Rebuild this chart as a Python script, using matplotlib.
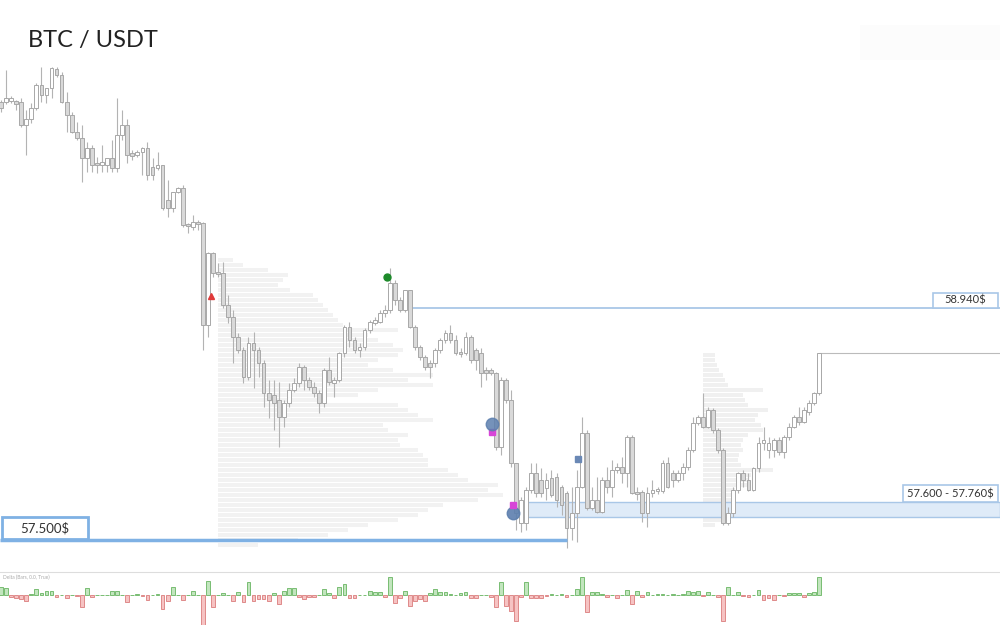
import numpy as np
import matplotlib.pyplot as plt
from matplotlib.patches import Rectangle
from matplotlib.transforms import blended_transform_factory

plt.rcParams['font.family'] = ['Lato', 'DejaVu Sans']

# ---- BTC/USDT candles (price in $) ----
opens = [60216, 60216, 60222, 60222, 60216, 60073, 60110, 60178, 60321, 60259,
         60302, 60420, 60383, 60216, 60135, 60030, 59992, 59868, 59930, 59837,
         59825, 59825, 59868, 59806, 60011, 60073, 59899, 59887, 59906, 59930,
         59813, 59806, 59825, 59608, 59558, 59658, 59682, 59459, 59441, 59472,
         59465, 58833, 59279, 59162, 59155, 58957, 58883, 58759, 58678, 58511,
         58721, 58678, 58597, 58411, 58399, 58368, 58263, 58349, 58430, 58473,
         58573, 58492, 58449, 58411, 58349, 58554, 58473, 58492, 58659, 58821,
         58740, 58678, 58697, 58802, 58845, 58852, 58907, 58926, 59093, 58988,
         58926, 59050, 58821, 58697, 58635, 58597, 58597, 58678, 58740, 58783,
         58740, 58666, 58659, 58759, 58678, 58659, 58554, 58554, 58535, 58077,
         58492, 58368, 57977, 57605, 57605, 57810, 57915, 57872, 57822, 57884,
         57891, 57829, 57791, 57574, 57667, 57829, 58163, 57698, 57748, 57674,
         57872, 57829, 57934, 57953, 57915, 58139, 57798, 57798, 57667, 57791,
         57804, 57804, 57977, 57915, 57872, 57915, 57953, 58058, 58225, 58263,
         58201, 58306, 58182, 58058, 57605, 57667, 57810, 57915, 57872, 57810,
         57946, 58101, 58058, 58058, 58120, 58046, 58139, 58201, 58263, 58232,
         58294, 58349, 58411]
closes = [60178, 60240, 60240, 60203, 60073, 60110, 60178, 60321, 60259, 60302,
          60426, 60383, 60216, 60135, 60030, 59992, 59868, 59930, 59825, 59825,
          59844, 59868, 59806, 60011, 60073, 59887, 59881, 59906, 59930, 59763,
          59763, 59825, 59558, 59558, 59658, 59682, 59453, 59447, 59472, 59459,
          58833, 59279, 59155, 59149, 58957, 58883, 58759, 58678, 58511, 58721,
          58678, 58597, 58411, 58368, 58349, 58263, 58349, 58430, 58473, 58573,
          58492, 58449, 58411, 58349, 58554, 58480, 58492, 58659, 58821, 58740,
          58678, 58697, 58802, 58852, 58864, 58907, 58926, 59093, 58988, 58926,
          59050, 58821, 58697, 58635, 58573, 58573, 58678, 58740, 58783, 58740,
          58659, 58653, 58759, 58616, 58616, 58535, 58535, 58535, 58077, 58492,
          58368, 57977, 57667, 57748, 57810, 57915, 57791, 57791, 57872, 57779,
          57748, 57717, 57574, 57667, 57829, 58163, 57698, 57748, 57674, 57872,
          57829, 57934, 57953, 57915, 58139, 57791, 57785, 57667, 57791, 57810,
          57816, 57977, 57829, 57872, 57915, 57953, 58058, 58225, 58263, 58201,
          58306, 58182, 58058, 57605, 57667, 57810, 57915, 57872, 57810, 57946,
          58101, 58120, 58101, 58120, 58046, 58139, 58201, 58263, 58232, 58306,
          58349, 58411, 58659]
highs = [60228, 60414, 60253, 60228, 60240, 60166, 60209, 60333, 60433, 60302,
         60433, 60433, 60402, 60278, 60154, 60092, 60073, 59968, 59949, 59875,
         59949, 59868, 59980, 60240, 60166, 60110, 59918, 59918, 59937, 59968,
         59868, 59906, 59825, 59732, 59658, 59689, 59701, 59465, 59515, 59484,
         59472, 59286, 59286, 59217, 59224, 59019, 58926, 58783, 58697, 58759,
         58790, 58697, 58616, 58492, 58492, 58480, 58368, 58473, 58504, 58597,
         58585, 58511, 58480, 58430, 58566, 58635, 58511, 58666, 58833, 58852,
         58759, 58721, 58814, 58864, 58883, 58926, 58957, 59186, 59112, 59007,
         59050, 59050, 58833, 58709, 58647, 58616, 58690, 58752, 58802, 58833,
         58771, 58690, 58790, 58771, 58690, 58690, 58573, 58566, 58542, 58511,
         58504, 58430, 57977, 57767, 57829, 57977, 57977, 57946, 57915, 57934,
         57915, 57841, 57804, 57829, 57934, 58263, 58182, 57829, 57891, 57891,
         57953, 57996, 57977, 58015, 58151, 58151, 57829, 57810, 57829, 57872,
         57829, 57996, 58015, 57934, 57934, 57977, 58077, 58263, 58275, 58411,
         58325, 58318, 58194, 58070, 57705, 57829, 57922, 57934, 57915, 57953,
         58139, 58201, 58139, 58132, 58139, 58151, 58225, 58275, 58325, 58325,
         58368, 58418, 58659]
lows = [60154, 60203, 60209, 60166, 60061, 59887, 60085, 60166, 60216, 60209,
        60240, 60371, 60209, 60030, 60023, 59980, 59720, 59782, 59782, 59775,
        59782, 59782, 59782, 59782, 59980, 59837, 59856, 59875, 59763, 59732,
        59732, 59794, 59546, 59503, 59534, 59651, 59441, 59403, 59422, 59422,
        58678, 58759, 59131, 59131, 58938, 58845, 58597, 58659, 58473, 58492,
        58442, 58511, 58325, 58256, 58182, 58077, 58201, 58325, 58418, 58449,
        58430, 58430, 58387, 58287, 58325, 58461, 58387, 58480, 58635, 58697,
        58659, 58635, 58678, 58783, 58833, 58845, 58883, 58907, 58957, 58914,
        58914, 58814, 58678, 58616, 58554, 58504, 58573, 58659, 58721, 58721,
        58647, 58635, 58647, 58597, 58554, 58449, 58492, 58523, 58058, 58027,
        58349, 57953, 57562, 57550, 57562, 57791, 57767, 57767, 57748, 57767,
        57705, 57655, 57450, 57500, 57488, 57822, 57686, 57686, 57667, 57667,
        57791, 57767, 57915, 57853, 57829, 57785, 57748, 57612, 57581, 57767,
        57785, 57791, 57822, 57829, 57860, 57872, 57934, 58046, 58213, 58194,
        58194, 58163, 58039, 57593, 57593, 57643, 57791, 57829, 57804, 57804,
        57922, 58058, 58008, 58015, 58027, 58008, 58120, 58194, 58213, 58225,
        58275, 58337, 58399]

# delta per bar (lower panel)
delta = [8, 7, -2, -3, -4, -6, 1, 6, 2, 4, 4, -2, 0, -3, 0, -1, -12, 7, -2, 0,
         0, 0, 4, 4, 0, -7, 0, 1, -1, -5, 0, 1, -14, -6, 8, 0, -5, 0, 4, 0,
         -30, 14, -12, 0, 2, 0, -6, 3, -7, 13, -6, -4, -4, -6, 2, -9, 4, 7, 7, -2,
         -4, -2, -2, 0, 6, 2, -3, 8, 11, -3, -3, 0, 0, 4, 3, 3, -2, 18, -8, -3,
         4, -11, -6, -4, -6, 2, 6, 3, 3, 1, 0, 2, 3, -3, -3, 0, 0, -2, -12, 13,
         -11, -16, -26, -2, 13, -3, -3, -3, -1, 1, 0, 1, -2, 0, 6, 18, -17, 3, 3, 1,
         -2, 0, -3, 0, 5, -9, 4, -2, 3, 0, 1, 1, 0, 1, 0, 1, 4, 3, 4, -1,
         3, 0, -2, -26, 8, 0, 3, -1, -2, 0, 5, -5, -3, -5, 0, -1, 2, 2, 2, -2,
         2, 3, 18]

# volume profiles (price bins of $31)
prof1_top = 59236
prof1_vol = [15, 25, 50, 70, 65, 60, 72, 95, 100, 105, 110, 115, 120, 125, 180,
             150, 160, 175, 185, 180, 160, 150, 175, 215, 190, 215, 160, 140, 100,
             180, 190, 200, 215, 165, 170, 190, 180, 182, 200, 205, 210, 210, 230,
             240, 250, 280, 270, 285, 260, 225, 210, 200, 180, 150, 130, 110, 80, 40]
prof1_start = 43
prof2_top = 58647
prof2_vol = [12, 12, 14, 16, 20, 22, 25, 60, 40, 42, 45, 65, 55, 52, 58, 60, 45,
             40, 38, 40, 36, 35, 38, 70, 48, 45, 45, 32, 30, 30, 28, 25, 24, 18, 12]
prof2_start = 139
bin_size = 31

level_high = 58940
zone_low, zone_high = 57645, 57735
level_low = 57500

n = len(opens)
idx = np.arange(n)
o = np.array(opens)
c = np.array(closes)
up = c >= o

fig = plt.figure(figsize=(10, 6.25), dpi=100)
ax = fig.add_axes([0, 0.0928, 1, 0.9072])
dax = fig.add_axes([0, 0, 1, 0.0848])

spacing = 5.05
ax.set_xlim(-1 / spacing, 999 / spacing)
ax.set_ylim(57333, 60848)
ax.axis('off')

# volume profiles
lv1 = prof1_top - bin_size * np.arange(len(prof1_vol))
ax.barh(lv1, np.array(prof1_vol) / spacing, left=prof1_start, height=bin_size * 0.97,
        color='#f2f2f2', zorder=0)
lv2 = prof2_top - bin_size * np.arange(len(prof2_vol))
ax.barh(lv2, np.array(prof2_vol) / spacing, left=prof2_start, height=bin_size * 0.97,
        color='#f0f0f0', zorder=0)

# zone and levels
ax.axhspan(zone_low, zone_high, xmin=0.52, xmax=1, facecolor='#dfebf8',
           edgecolor='#a9c7e7', lw=1, zorder=1)
ax.axhline(level_high, xmin=0.41, xmax=1, color='#a9c7e7', lw=1.3, zorder=1)
ax.hlines(closes[-1], idx[-1], ax.get_xlim()[1], color='#bbbbbb', lw=0.8, zorder=1)
ax.hlines(level_low, ax.get_xlim()[0], idx[112], color='#7fb1e4', lw=2.5, zorder=4)

# candles
ax.vlines(idx, lows, highs, color='#b3b3b3', lw=0.8, zorder=2)
bottoms = np.minimum(o, c)
heights = np.maximum(np.abs(c - o), 8)
ax.bar(idx[up], heights[up], bottom=bottoms[up], width=0.74, color='white',
       edgecolor='#a8a8a8', lw=0.7, zorder=3)
ax.bar(idx[~up], heights[~up], bottom=bottoms[~up], width=0.74, color='#d9d9d9',
       edgecolor='#a8a8a8', lw=0.7, zorder=3)

# signals
ax.plot(41.6, 59013, marker='^', color='#e03a3a', ms=4, zorder=5)
ax.plot(76.4, 59131, marker='o', color='#1d8a2a', ms=5, zorder=5)
ax.plot(97.2, 58170, marker='s', color='#d845d8', ms=5, zorder=5)
ax.plot(97.2, 58219, marker='o', color='#5d7fae', alpha=0.85, ms=9, zorder=6)
ax.plot(101.4, 57668, marker='o', color='#5d7fae', alpha=0.9, ms=9, zorder=5)
ax.plot(101.4, 57717, marker='s', color='#d845d8', ms=5, zorder=6)
ax.plot(114.3, 58002, marker='s', color='#6a88b5', ms=4, zorder=5)

# price labels
tr = blended_transform_factory(ax.transAxes, ax.transData)
ax.add_patch(Rectangle((0.933, level_high), 0.065, 93, transform=tr, facecolor='white',
                       edgecolor='#a9c7e7', lw=1.2, zorder=6))
ax.text(0.9655, level_high + 46, '58.940$', transform=tr, ha='center', va='center',
        fontsize=8, color='#333333', zorder=7)
ax.add_patch(Rectangle((0.903, zone_high), 0.095, 105, transform=tr, facecolor='white',
                       edgecolor='#a9c7e7', lw=1.2, zorder=6))
ax.text(0.9505, zone_high + 52, '57.600 - 57.760$', transform=tr, ha='center',
        va='center', fontsize=8, color='#333333', zorder=7)
ax.add_patch(Rectangle((0.002, level_low + 6), 0.086, 137, transform=tr, facecolor='white',
                       edgecolor='#7fb1e4', lw=2, zorder=6))
ax.text(0.045, level_low + 72, '57.500$', transform=tr, ha='center', va='center',
        fontsize=9.5, color='#333333', zorder=7)

fig.text(0.028, 1 - 40 / 625, 'BTC / USDT', fontsize=17, va='center', color='#222222')
fig.patches.append(Rectangle((0.86, 1 - 60 / 625), 0.14, 35 / 625, transform=fig.transFigure,
                             facecolor='#fcfcfc', edgecolor='none'))

# delta panel
d = np.array(delta)
dax.set_xlim(ax.get_xlim())
dax.set_ylim(-30, 23)
pos = d >= 0
dax.bar(idx[pos], d[pos], width=0.74, color='#c2e5be', edgecolor='#78bd72', lw=0.7)
dax.bar(idx[~pos], d[~pos], width=0.74, color='#f6c3c3', edgecolor='#df8a8a', lw=0.7)
dax.set_xticks([])
dax.set_yticks([])
for s in ['left', 'right', 'bottom']:
    dax.spines[s].set_visible(False)
dax.spines['top'].set_color('#dddddd')
dax.text(0.003, 0.95, 'Delta (Bars, 0.0, True)', transform=dax.transAxes, fontsize=3.5,
         color='#aaaaaa', va='top')

fig.savefig('out.png', dpi=100)
